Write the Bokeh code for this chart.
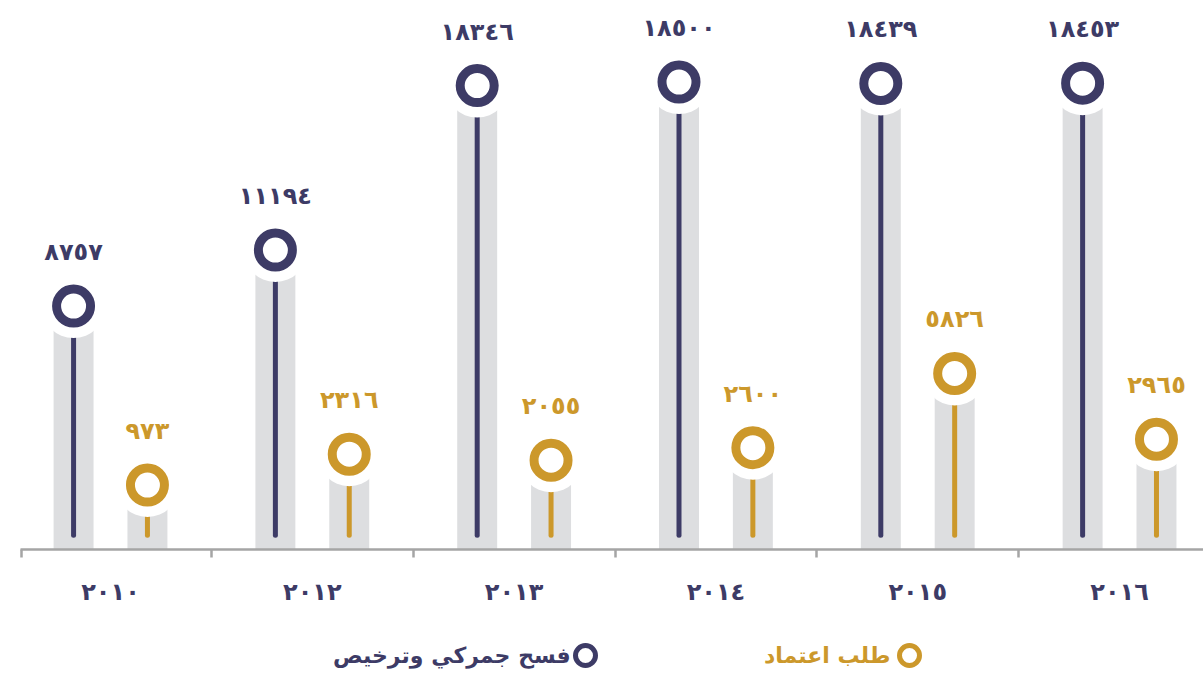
import numpy as np
from bokeh.plotting import figure
from bokeh.layouts import column
from bokeh.models import ColumnDataSource, Range1d, FixedTicker, Legend, LegendItem
from bokeh.core.properties import value
from bokeh.embed import file_html
from bokeh.resources import INLINE

# ---------------- data ----------------
years = ["2010", "2012", "2013", "2014", "2015", "2016"]
customs = [8757, 11194, 18346, 18500, 18439, 18453]      # فسح جمركي وترخيص
accredit = [973, 2316, 2055, 2600, 5826, 2965]           # طلب اعتماد
series_names = ["فسح جمركي وترخيص", "طلب اعتماد"]

AR = str.maketrans("0123456789", "٠١٢٣٤٥٦٧٨٩")
def ar(v):
    return str(v).translate(AR)

NAVY = "#3d3b66"
GOLD = "#cc982b"
GREY = "#dddee0"
AXIS = "#a5a5a5"
FONT = "DejaVu Sans"

Y0, Y1 = -1830, 21700
idx = np.arange(len(years))
DODGE = 0.183

p = figure(width=1203, height=619,
           x_range=Range1d(-0.446, 5.416), y_range=Range1d(Y0, Y1),
           output_backend="svg", toolbar_location=None,
           y_axis_location=None,
           min_border_left=20, min_border_right=0, min_border_top=8, min_border_bottom=70)
p.outline_line_color = None
p.xgrid.grid_line_color = None
p.ygrid.grid_line_color = None

# legend strip under the chart
lg = figure(width=1203, height=55, x_range=Range1d(0, 1203), y_range=Range1d(0, 55),
            output_backend="svg", toolbar_location=None,
            x_axis_location=None, y_axis_location=None,
            min_border_left=0, min_border_right=0, min_border_top=0, min_border_bottom=0)
lg.outline_line_color = None
lg.xgrid.grid_line_color = None
lg.ygrid.grid_line_color = None

line_bottom = Y0 + 620

def series(vals, xs, color):
    src = ColumnDataSource(dict(x=xs, top=vals, bottom=[Y0] * len(vals),
                                lb=[line_bottom] * len(vals),
                                lab=[ar(v) for v in vals]))
    p.vbar(x="x", top="top", bottom="bottom", width=0.198, source=src,
           fill_color=GREY, line_color=None)
    p.segment(x0="x", y0="top", x1="x", y1="lb", source=src,
              line_color=color, line_width=5, line_cap="round")
    p.scatter(x="x", y="top", source=src, size=64, marker="circle",
              fill_color="white", line_color=None)
    p.scatter(x="x", y="top", source=src, size=34, marker="circle",
              fill_color="white", line_color=color, line_width=9)
    p.text(x="x", y="top", text="lab", source=src, y_offset=-54,
           text_align="center", text_baseline="middle",
           text_font=value(FONT), text_font_style="bold",
           text_font_size="24px", text_color=color)
    ring = lg.scatter(x="x", y="top", source=src, size=20, marker="circle",
                      fill_color="white", line_color=color, line_width=5,
                      visible=False)
    blank = lg.scatter(x="x", y="top", source=src, size=1, marker="circle",
                       fill_alpha=0, line_alpha=0, visible=False)
    return ring, blank

ring_n, blank_n = series(customs, idx - DODGE, NAVY)
ring_g, blank_g = series(accredit, idx + DODGE, GOLD)

ax = p.xaxis[0]
ax.ticker = FixedTicker(ticks=list(idx),
                        minor_ticks=[-0.44] + [i + 0.5 for i in idx[:-1]])
ax.major_label_overrides = {int(i): ar(y) for i, y in zip(idx, years)}
ax.axis_line_color = AXIS
ax.axis_line_width = 2.5
ax.major_tick_line_color = None
ax.major_tick_out = 0
ax.major_tick_in = 0
ax.minor_tick_line_color = AXIS
ax.minor_tick_line_width = 2.5
ax.minor_tick_out = 8
ax.minor_tick_in = 0
ax.major_label_standoff = 20
ax.major_label_text_font = FONT
ax.major_label_text_font_style = "bold"
ax.major_label_text_font_size = "24px"
ax.major_label_text_color = NAVY

COMMON = dict(orientation="horizontal", glyph_height=50, padding=0, margin=0,
              label_standoff=0, label_text_font=FONT,
              label_text_font_size="22px", label_text_font_style="bold",
              border_line_color=None, background_fill_alpha=0,
              inactive_fill_alpha=0)

def legend_entry(label, ring, blank, color, text_x, ring_x):
    # label text (right-to-left reading: text sits to the left of its key)
    lg.add_layout(Legend(items=[LegendItem(label=label, renderers=[blank])],
                         location=(text_x, -6), glyph_width=1,
                         label_text_color=color, **COMMON))
    # key ring to the right of the text
    lg.add_layout(Legend(items=[LegendItem(label=" ", renderers=[ring])],
                         location=(ring_x, -6), glyph_width=50,
                         label_text_color=color, **COMMON))

legend_entry(series_names[0], ring_n, blank_n, NAVY, 312, 540)
legend_entry(series_names[1], ring_g, blank_g, GOLD, 743, 864)

open("out.html", "w").write(file_html(column(p, lg, spacing=0), INLINE))
